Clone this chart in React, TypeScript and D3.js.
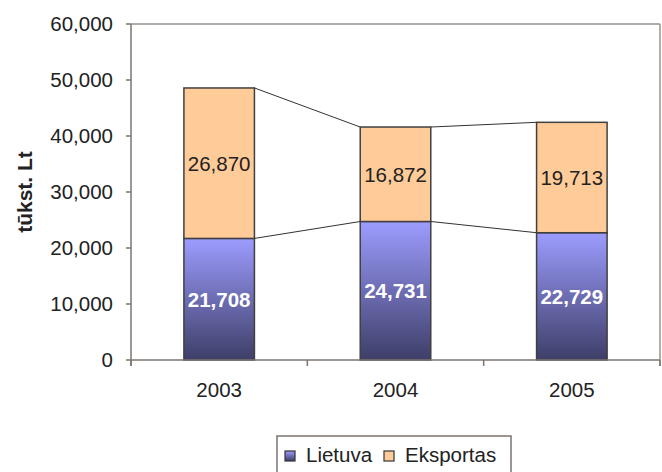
import * as d3 from "d3"

const years = ["2003", "2004", "2005"]
const lietuva = [21708, 24731, 22729]
const eksportas = [26870, 16872, 19713]
const yTicks = [0, 10000, 20000, 30000, 40000, 50000, 60000]
const seriesNames = ["Lietuva", "Eksportas"]

const W = 662
const H = 472
const margin = { top: 24, right: 2, bottom: 112, left: 131 }
const FONT = "'Liberation Sans', Arial, sans-serif"

export default function App() {
  const x = d3
    .scaleBand<string>()
    .domain(years)
    .range([margin.left, W - margin.right])
    .paddingInner(0)
    .paddingOuter(0)
  const y = d3
    .scaleLinear()
    .domain([0, 60000])
    .range([H - margin.bottom, margin.top])

  const barW = x.bandwidth() * 0.4
  const fmt = d3.format(",")
  const x0 = margin.left
  const x1 = W - margin.right
  const yBottom = y(0)
  const yTop = y(60000)

  const stacks = years.map((yr, i) => {
    const bx = x(yr)! + (x.bandwidth() - barW) / 2
    return {
      yr,
      bx,
      low: lietuva[i],
      high: lietuva[i] + eksportas[i],
      exp: eksportas[i],
    }
  })

  const boundaries = [...years.map((yr) => x(yr)!), x1]

  return (
    <svg
      width={W}
      height={H}
      style={{ position: "absolute", left: 0, top: 0, display: "block", background: "#fff" }}
      fontFamily={FONT}
    >
      <defs>
        <linearGradient id="lt" x1="0" y1="0" x2="0" y2="1">
          <stop offset="0%" stopColor="#9c9cff" />
          <stop offset="100%" stopColor="#3e3e68" />
        </linearGradient>
      </defs>

      {/* frame */}
      <line x1={x0} x2={x1} y1={yTop} y2={yTop} stroke="#9a928e" strokeWidth={1.5} />
      <line x1={x1} x2={x1} y1={yTop} y2={yBottom + 6} stroke="#9a928e" strokeWidth={1.5} />

      {/* connector lines */}
      {stacks.slice(0, -1).map((s, i) => {
        const n = stacks[i + 1]
        return (
          <g key={"c" + i} stroke="#333" strokeWidth={1}>
            <line x1={s.bx + barW} y1={y(s.low)} x2={n.bx} y2={y(n.low)} />
            <line x1={s.bx + barW} y1={y(s.high)} x2={n.bx} y2={y(n.high)} />
          </g>
        )
      })}

      {/* bars */}
      {stacks.map((s) => (
        <g key={s.yr}>
          <rect
            x={s.bx}
            y={y(s.low)}
            width={barW}
            height={yBottom - y(s.low)}
            fill="url(#lt)"
            stroke="#404040"
            strokeWidth={1.5}
          />
          <rect
            x={s.bx}
            y={y(s.high)}
            width={barW}
            height={y(s.low) - y(s.high)}
            fill="#ffcc99"
            stroke="#404040"
            strokeWidth={1.5}
          />
          <text
            x={s.bx + barW / 2}
            y={(y(s.low) + y(s.high)) / 2}
            dy="0.36em"
            textAnchor="middle"
            fontSize={20.5}
            fill="#222"
          >
            {fmt(s.exp)}
          </text>
          <text
            x={s.bx + barW / 2}
            y={(yBottom + y(s.low)) / 2}
            dy="0.36em"
            textAnchor="middle"
            fontSize={20.5}
            fontWeight="bold"
            fill="#fff"
          >
            {fmt(s.low)}
          </text>
        </g>
      ))}

      {/* y axis */}
      <line x1={x0} x2={x0} y1={yTop} y2={yBottom + 6} stroke="#7c7470" strokeWidth={1.5} />
      {yTicks.map((t) => (
        <g key={t}>
          <line x1={x0 - 5} x2={x0} y1={y(t)} y2={y(t)} stroke="#7c7470" strokeWidth={1.5} />
          <text x={113} y={y(t)} dy="0.36em" textAnchor="end" fontSize={20.5} fill="#222">
            {fmt(t)}
          </text>
        </g>
      ))}
      <text
        transform={`translate(32,${(yTop + yBottom) / 2}) rotate(-90)`}
        textAnchor="middle"
        fontSize={21}
        fontWeight="bold"
        fill="#222"
      >
        tūkst. Lt
      </text>

      {/* x axis */}
      <line x1={x0} x2={x1} y1={yBottom} y2={yBottom} stroke="#7c7470" strokeWidth={1.5} />
      {boundaries.map((b, i) => (
        <line key={"t" + i} x1={b} x2={b} y1={yBottom} y2={yBottom + 6} stroke="#7c7470" strokeWidth={1.5} />
      ))}
      {years.map((yr) => (
        <text
          key={"l" + yr}
          x={x(yr)! + x.bandwidth() / 2}
          y={397}
          textAnchor="middle"
          fontSize={20.5}
          fill="#222"
        >
          {yr}
        </text>
      ))}

      {/* legend */}
      <rect x={277} y={436} width={234} height={42} fill="#fff" stroke="#7c7470" strokeWidth={1.5} />
      {seriesNames.map((name, i) => {
        const lx = i === 0 ? 285 : 384
        return (
          <g key={name}>
            <rect
              x={lx}
              y={451}
              width={10}
              height={10}
              fill={i === 0 ? "url(#lt)" : "#ffcc99"}
              stroke="#333"
              strokeWidth={1.2}
            />
            <text x={lx + 21} y={462} fontSize={20.5} fill="#222">
              {name}
            </text>
          </g>
        )
      })}
    </svg>
  )
}
